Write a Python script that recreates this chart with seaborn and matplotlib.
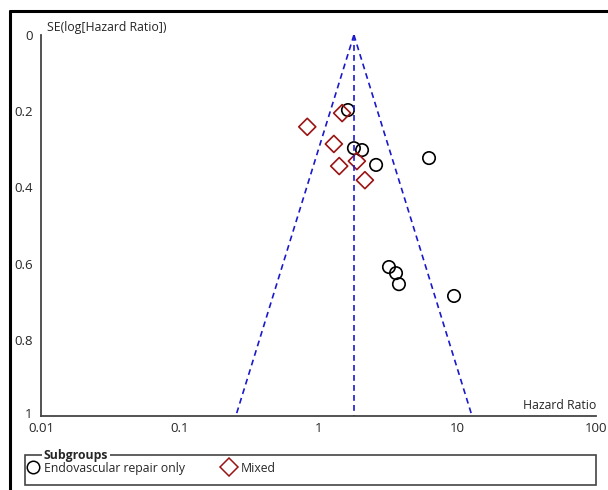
import matplotlib
matplotlib.use("Agg")
import matplotlib.pyplot as plt
import seaborn as sns
import numpy as np
import pandas as pd
from matplotlib.lines import Line2D
from matplotlib.patches import Rectangle
import matplotlib.transforms as mtrans

# ---- data ----
endo_hr = [1.63, 1.80, 2.06, 2.60, 6.26, 3.22, 3.62, 3.80, 9.48]
endo_se = [0.197, 0.297, 0.302, 0.341, 0.323, 0.609, 0.625, 0.654, 0.685]
mixed_hr = [0.83, 1.48, 1.29, 1.41, 1.89, 2.16]
mixed_se = [0.241, 0.205, 0.286, 0.344, 0.331, 0.381]
pooled_hr = 1.80
groups = ["Endovascular repair only", "Mixed"]
x_ticks = [0.01, 0.1, 1, 10, 100]
x_tick_labels = ["0.01", "0.1", "1", "10", "100"]
y_ticks = [0, 0.2, 0.4, 0.6, 0.8, 1]
y_tick_labels = ["0", "0.2", "0.4", "0.6", "0.8", "1"]

df = pd.DataFrame({
    "hr": endo_hr + mixed_hr,
    "se": endo_se + mixed_se,
    "group": [groups[0]] * len(endo_hr) + [groups[1]] * len(mixed_hr),
})

sns.set_style("white")
plt.rcParams["font.family"] = ["Open Sans", "DejaVu Sans"]

fig = plt.figure(figsize=(6.08, 4.9), dpi=100)
ax = fig.add_axes([41/608, 1-416/490, (596-41)/608, (416-35)/490])

axis_col = "#444444"
blue = "#1a1acc"
red = "#9a1414"

# funnel
se_line = np.array([0.0, 1.0])
dash = (0, (3.5, 2.5))
ax.plot(pooled_hr * np.exp(-1.96 * se_line), se_line, ls=dash, color=blue, lw=1.2)
ax.plot(pooled_hr * np.exp(1.96 * se_line), se_line, ls=dash, color=blue, lw=1.2)
ax.plot([pooled_hr, pooled_hr], [0, 1], ls=dash, color=blue, lw=1.2)

sns.scatterplot(data=df[df.group == groups[0]], x="hr", y="se", ax=ax,
                marker="o", s=80, facecolors="none", edgecolor="black",
                linewidth=1.2, legend=False)
sns.scatterplot(data=df[df.group == groups[1]], x="hr", y="se", ax=ax,
                marker="D", s=75, facecolors="none", edgecolor=red,
                linewidth=1.2, legend=False)

ax.set_xscale("log")
ax.set_xlim(0.01, 100)
ax.set_ylim(1, 0)
ax.set_xticks(x_ticks)
ax.set_xticklabels(x_tick_labels)
ax.set_yticks(y_ticks)
ax.set_yticklabels(y_tick_labels)
ax.minorticks_off()
ax.set_xlabel("")
ax.set_ylabel("")
for s in ["top", "right"]:
    ax.spines[s].set_visible(False)
for s in ["left", "bottom"]:
    ax.spines[s].set_color(axis_col)
    ax.spines[s].set_linewidth(1.3)
ax.tick_params(axis="y", direction="out", length=5, width=1.2, color=axis_col,
               labelsize=9.5, pad=1)
ax.tick_params(axis="x", direction="inout", length=8, width=1.2, color=axis_col,
               labelsize=9.5, pad=0)
# nudge the "1" y label upward slightly like the reference
ylabels = ax.get_yticklabels()
ylabels[-1].set_transform(ylabels[-1].get_transform() +
                          mtrans.ScaledTranslation(0, 3/100, fig.dpi_scale_trans))
ax.patch.set_alpha(0)

fig.text(47/608, 1-27/490, "SE(log[Hazard Ratio])", ha="left", va="center", fontsize=8.8)
fig.text(596/608, 1-405/490, "Hazard Ratio", ha="right", va="center", fontsize=8.8)

# outer frame
fig.add_artist(Line2D([10/608, 1], [1-11/490, 1-11/490], color="black", lw=2.2,
                      transform=fig.transFigure))
fig.add_artist(Line2D([10/608, 10/608], [0, 1-11/490], color="black", lw=2.2,
                      transform=fig.transFigure))

# legend box
fig.add_artist(Rectangle((25/608, 1-485/490), 571/608, 30/490, fill=False,
                         edgecolor=axis_col, lw=1.2, transform=fig.transFigure))
fig.text(44/608, 1-455/490, "Subgroups", ha="left", va="center", fontsize=8.8,
         fontweight="bold", bbox=dict(facecolor="white", edgecolor="none", pad=1.5))
handles = [
    Line2D([], [], marker="o", ls="none", markersize=9, markerfacecolor="none",
           markeredgecolor="black", markeredgewidth=1.1),
    Line2D([], [], marker="D", ls="none", markersize=9, markerfacecolor="none",
           markeredgecolor=red, markeredgewidth=1.1),
]
fig.legend(handles, groups, loc="center left", bbox_to_anchor=(26/608, 1-468/490),
           ncol=2, frameon=False, fontsize=8.8, handletextpad=0.3,
           columnspacing=3.0, handlelength=1.2, borderpad=0, borderaxespad=0)

fig.savefig("out.png", dpi=100)
